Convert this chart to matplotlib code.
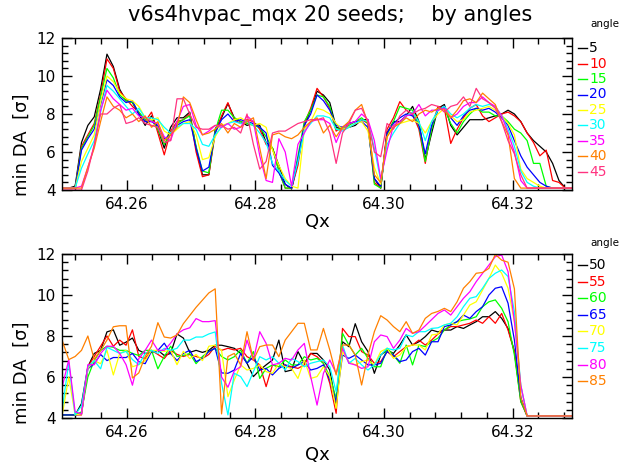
import numpy as np
import matplotlib
matplotlib.use("Agg")
import matplotlib.pyplot as plt
from matplotlib.lines import Line2D
from matplotlib.ticker import MultipleLocator, FormatStrFormatter

# Qx scan grid (81 tunes)
qx_start = 64.25
qx_step = 0.00099
n_pts = 81

top_angles = [5, 10, 15, 20, 25, 30, 35, 40, 45]
bot_angles = [50, 55, 60, 65, 70, 75, 80, 85]
top_colors = ['#000000', '#ff0000', '#00ff00', '#0000ff', '#ffff00',
              '#00ffff', '#ff00ff', '#ff8000', '#ff3380']
bot_colors = ['#000000', '#ff0000', '#00ff00', '#0000ff', '#ffff00',
              '#00ffff', '#ff00ff', '#ff8000']

# min DA [sigma], angles 5..45
t05 = [4.1, 4.1, 4.2, 6.5, 7.4, 7.85, 9.3, 11.15, 10.5, 9.3,
       8.7, 8.6, 8.0, 7.4, 7.9, 7.2, 6.2, 7.3, 7.8, 7.8,
       8.1, 6.2, 4.8, 4.8, 7.2, 7.8, 8.55, 7.8, 7.6, 7.4,
       7.5, 7.4, 6.5, 6.2, 5.3, 4.3, 4.05, 5.5, 7.4, 8.2,
       9.2, 9.0, 8.6, 7.3, 7.2, 7.3, 7.4, 7.7, 7.7, 4.6,
       4.1, 7.0, 7.6, 7.6, 7.9, 8.4, 7.6, 5.6, 7.0, 8.3,
       8.5, 7.4, 6.9, 7.3, 7.7, 7.7, 7.7, 7.8, 7.9, 8.0,
       8.2, 8.0, 7.6, 7.0, 6.6, 6.3, 6.0, 5.4, 4.5, 4.1,
       4.1]
t10 = [4.1, 4.1, 4.1, 6.3, 6.9, 7.5, 9.0, 10.9, 10.4, 9.2,
       8.8, 8.4, 8.1, 7.6, 8.1, 7.0, 5.85, 7.1, 7.6, 7.7,
       8.0, 6.0, 4.7, 4.8, 7.0, 7.9, 8.6, 7.7, 7.5, 7.7,
       7.6, 7.2, 6.4, 6.2, 5.0, 4.1, 4.1, 5.3, 7.5, 8.3,
       9.35, 8.9, 8.3, 7.1, 7.3, 7.5, 7.6, 7.7, 7.5, 4.4,
       4.1, 7.2, 7.8, 8.65, 8.2, 8.0, 7.2, 5.4, 7.3, 8.4,
       8.3, 6.45, 7.2, 7.8, 8.3, 8.5, 7.9, 7.6, 7.8, 8.0,
       8.1, 7.9, 7.6, 7.0, 6.5, 5.8, 6.1, 4.5, 4.4, 4.1,
       4.1]
t15 = [4.1, 4.1, 4.1, 6.2, 6.8, 7.4, 8.9, 10.4, 9.9, 9.0,
       8.7, 8.6, 8.1, 7.7, 7.7, 7.2, 6.4, 7.0, 7.5, 7.7,
       7.9, 6.3, 5.0, 4.9, 7.1, 8.2, 8.2, 7.8, 7.6, 7.5,
       7.4, 7.3, 6.8, 6.2, 5.0, 4.1, 4.1, 5.8, 7.6, 8.2,
       9.0, 8.9, 8.4, 7.2, 7.2, 7.4, 7.6, 7.8, 7.5, 4.3,
       4.1, 6.9, 7.6, 8.4, 8.3, 8.2, 7.4, 5.5, 7.2, 8.3,
       8.3, 7.5, 7.0, 7.6, 8.0, 8.3, 8.1, 8.1, 7.9, 7.9,
       7.6, 7.2, 7.0, 6.6, 5.4, 5.4, 4.2, 4.1, 4.1, 4.1,
       4.1]
t20 = [4.1, 4.1, 4.1, 6.1, 6.7, 7.2, 8.5, 9.8, 9.5, 8.9,
       8.6, 8.7, 8.0, 7.6, 7.6, 7.4, 6.7, 6.9, 7.4, 7.6,
       7.7, 6.2, 5.0, 5.2, 7.0, 7.7, 8.0, 7.6, 7.7, 7.6,
       7.5, 7.3, 7.0, 5.3, 4.9, 4.3, 4.1, 5.6, 7.4, 8.0,
       9.0, 8.7, 8.2, 7.4, 7.3, 7.5, 7.6, 7.6, 7.3, 4.6,
       4.2, 7.0, 7.5, 7.8, 8.0, 7.9, 7.4, 5.9, 7.4, 8.2,
       8.4, 7.8, 7.4, 7.9, 8.2, 8.3, 8.2, 8.3, 8.1, 7.8,
       7.4, 6.6, 5.8, 5.2, 4.8, 4.4, 4.2, 4.1, 4.1, 4.1,
       4.1]
t25 = [4.1, 4.1, 4.1, 5.5, 6.2, 6.9, 8.6, 10.0, 9.7, 9.1,
       8.8, 8.7, 8.4, 7.8, 7.7, 7.8, 7.1, 6.9, 7.2, 7.5,
       7.6, 6.9, 5.6, 5.7, 6.8, 7.4, 7.5, 7.7, 7.8, 7.6,
       7.4, 7.5, 7.3, 6.1, 5.3, 4.6, 4.2, 4.1, 7.2, 7.6,
       8.3, 8.2, 8.0, 7.5, 7.2, 7.3, 7.5, 7.6, 7.1, 5.2,
       4.3, 6.8, 7.4, 7.5, 7.6, 7.7, 7.5, 7.0, 7.6, 8.0,
       8.3, 7.9, 7.6, 7.7, 8.1, 8.2, 8.3, 8.4, 8.2, 7.9,
       7.5, 6.9, 5.1, 4.6, 4.4, 4.2, 4.1, 4.1, 4.1, 4.1,
       4.1]
t30 = [4.1, 4.1, 4.1, 5.15, 5.9, 6.6, 8.1, 9.5, 9.2, 8.8,
       8.4, 8.0, 8.3, 7.8, 7.8, 7.7, 7.3, 7.0, 7.3, 7.5,
       7.5, 7.2, 6.4, 6.3, 6.9, 7.3, 7.5, 7.6, 7.5, 7.6,
       7.4, 7.0, 6.5, 5.4, 5.0, 4.5, 4.2, 5.5, 7.1, 7.5,
       7.9, 7.9, 7.8, 7.2, 7.1, 7.3, 7.5, 7.7, 7.6, 6.2,
       4.5, 6.4, 7.0, 7.5, 7.9, 8.1, 7.6, 6.6, 7.6, 8.2,
       8.4, 8.0, 7.8, 8.0, 8.3, 8.5, 8.4, 8.5, 8.4, 7.9,
       7.2, 6.3, 5.0, 4.4, 4.2, 4.1, 4.1, 4.1, 4.1, 4.1,
       4.1]
t35 = [4.1, 4.1, 4.1, 4.2, 5.2, 6.3, 8.2, 9.25, 8.8, 8.5,
       8.2, 8.3, 7.9, 7.8, 7.6, 7.5, 6.8, 6.6, 7.6, 8.4,
       8.5, 7.4, 6.9, 7.1, 7.4, 7.3, 7.5, 7.2, 7.3, 7.9,
       7.6, 5.8, 4.5, 4.4, 6.7, 6.0, 4.2, 6.4, 7.0, 7.6,
       7.7, 7.7, 7.5, 6.5, 7.3, 7.5, 7.6, 8.0, 7.7, 6.6,
       4.6, 6.1, 7.4, 7.6, 7.9, 8.0, 8.5, 7.9, 8.2, 8.2,
       8.3, 7.8, 8.0, 8.4, 8.6, 8.6, 8.9, 8.6, 8.4, 7.9,
       7.0, 6.0, 4.5, 4.1, 4.1, 4.1, 4.1, 4.1, 4.1, 4.1,
       4.1]
t40 = [4.1, 4.1, 4.1, 4.1, 5.2, 6.2, 7.6, 8.9, 8.4, 8.2,
       7.8, 8.0, 7.6, 7.9, 7.3, 7.6, 6.6, 6.9, 7.3, 8.9,
       8.6, 7.7, 6.9, 7.0, 7.2, 7.5, 7.0, 7.5, 7.3, 7.6,
       7.8, 6.2, 4.6, 6.9, 7.0, 6.8, 6.7, 6.9, 7.3, 7.6,
       7.8, 7.0, 7.4, 6.8, 7.3, 7.6, 8.2, 8.5, 7.5, 4.8,
       4.4, 6.8, 7.3, 7.5, 7.8, 7.6, 8.0, 8.2, 8.1, 8.3,
       8.2, 7.8, 8.2, 8.7, 8.8, 8.6, 9.1, 8.8, 8.5, 7.6,
       6.9, 4.6, 4.1, 4.1, 4.1, 4.1, 4.1, 4.1, 4.1, 4.1,
       4.1]
t45 = [4.0, 4.0, 4.0, 4.0, 5.0, 6.4, 8.0, 8.0, 8.3, 8.5,
       7.5, 7.6, 7.8, 7.5, 7.4, 7.3, 6.5, 6.6, 8.8, 8.8,
       8.0, 7.3, 7.2, 7.2, 7.4, 7.4, 7.2, 7.3, 7.0, 8.0,
       6.4, 5.1, 5.5, 7.0, 7.1, 7.1, 7.3, 7.5, 7.6, 7.7,
       7.7, 7.8, 7.0, 5.4, 7.0, 7.5, 8.2, 8.3, 7.6, 6.0,
       5.75, 7.5, 7.2, 7.9, 8.2, 8.0, 8.2, 8.3, 8.5, 8.4,
       8.1, 8.4, 8.5, 8.9, 8.4, 9.35, 8.8, 8.6, 8.3, 7.6,
       6.6, 5.9, 4.8, 4.1, 4.1, 4.1, 4.1, 4.1, 4.1, 4.1,
       4.1]

# min DA [sigma], angles 50..85
b50 = [4.15, 4.15, 4.15, 4.7, 6.5, 7.15, 7.3, 8.2, 8.3, 7.55,
       7.7, 7.9, 7.3, 7.15, 7.2, 7.3, 7.05, 7.15, 8.1, 7.9,
       7.2, 7.3, 7.2, 7.3, 7.55, 7.55, 7.48, 7.4, 7.15, 6.67,
       6.02, 6.34, 6.59, 6.83, 7.8, 6.26, 6.34, 7.24, 6.67, 7.15,
       7.15, 6.83, 6.34, 4.6, 7.72, 7.48, 8.6, 7.72, 7.24, 6.18,
       7.07, 7.32, 7.15, 7.56, 8.05, 7.56, 7.72, 7.97, 8.29, 8.2,
       8.29, 8.29, 8.46, 8.37, 8.54, 8.7, 8.94, 8.94, 9.19, 8.86,
       8.37, 7.24, 4.96, 4.1, 4.1, 4.1, 4.1, 4.1, 4.1, 4.1,
       4.1]
b55 = [4.15, 4.15, 4.15, 4.15, 6.5, 7.0, 7.5, 8.0, 7.5, 7.8,
       7.55, 8.3, 7.0, 6.9, 7.3, 7.1, 6.9, 7.3, 7.1, 7.0,
       7.1, 7.0, 6.9, 7.1, 7.5, 7.3, 7.4, 7.32, 7.4, 6.99,
       6.83, 6.59, 5.53, 6.59, 6.5, 6.59, 6.5, 6.42, 6.59, 7.15,
       6.99, 6.67, 5.69, 4.23, 8.37, 7.97, 7.97, 7.24, 7.07, 6.67,
       6.75, 7.24, 6.99, 7.24, 7.48, 7.56, 7.8, 7.56, 7.8, 8.1,
       8.29, 8.46, 8.46, 8.54, 8.62, 8.78, 8.62, 8.94, 8.62, 9.1,
       8.29, 7.24, 4.8, 4.1, 4.1, 4.1, 4.1, 4.1, 4.1, 4.1,
       4.1]
b60 = [4.15, 4.15, 4.15, 4.3, 6.0, 6.8, 7.3, 7.5, 7.45, 7.3,
       7.3, 7.15, 7.05, 7.3, 7.3, 6.4, 7.0, 7.5, 7.0, 7.05,
       7.15, 6.65, 7.0, 7.25, 7.4, 7.0, 6.83, 6.99, 7.32, 6.67,
       7.24, 5.93, 6.42, 6.59, 6.5, 6.83, 6.59, 6.59, 6.99, 6.83,
       6.91, 6.67, 6.02, 4.96, 8.13, 7.56, 7.07, 7.4, 6.91, 6.5,
       6.5, 7.4, 7.07, 6.67, 7.56, 6.59, 7.56, 7.48, 7.72, 7.9,
       8.29, 8.54, 8.7, 8.78, 8.83, 8.94, 9.43, 9.67, 9.76, 9.35,
       8.7, 7.07, 4.8, 4.1, 4.1, 4.1, 4.1, 4.1, 4.1, 4.1,
       4.1]
b65 = [4.15, 4.15, 4.15, 4.2, 6.4, 6.65, 7.1, 6.8, 6.95, 6.95,
       6.95, 7.15, 6.75, 6.65, 7.25, 7.3, 7.65, 7.15, 6.8, 7.15,
       7.3, 6.75, 6.9, 7.25, 7.4, 6.2, 6.18, 6.34, 7.15, 6.67,
       6.99, 6.34, 6.42, 6.1, 6.42, 6.59, 6.42, 6.59, 6.75, 6.34,
       6.42, 6.59, 5.85, 4.8, 7.07, 6.91, 7.07, 6.83, 6.59, 6.59,
       6.67, 7.24, 7.07, 6.75, 6.83, 7.24, 7.4, 7.07, 7.72, 7.72,
       8.46, 8.54, 8.7, 9.02, 8.86, 9.19, 9.43, 10.0, 10.33, 10.4,
       9.6, 7.8, 5.0, 4.1, 4.1, 4.1, 4.1, 4.1, 4.1, 4.1,
       4.1]
b70 = [4.2, 6.0, 4.15, 4.2, 6.42, 6.8, 6.65, 7.3, 6.1, 7.15,
       7.3, 6.5, 6.6, 6.8, 7.3, 7.3, 7.25, 7.3, 6.6, 7.25,
       6.9, 7.1, 6.8, 7.5, 7.55, 7.3, 5.04, 5.85, 6.59, 6.34,
       6.42, 6.59, 6.26, 6.18, 6.67, 6.5, 6.42, 5.93, 6.83, 5.93,
       6.02, 6.5, 6.02, 4.47, 7.24, 6.75, 6.59, 6.75, 6.83, 6.59,
       7.24, 7.4, 6.91, 7.07, 7.48, 7.56, 7.56, 7.32, 8.05, 8.1,
       8.54, 8.62, 8.54, 9.02, 9.51, 9.67, 10.24, 10.81, 11.46, 11.06,
       10.33, 8.7, 5.6, 4.1, 4.1, 4.1, 4.1, 4.1, 4.1, 4.1,
       4.1]
b75 = [4.5, 6.7, 4.15, 4.6, 6.5, 6.8, 6.4, 7.45, 7.3, 7.15,
       7.25, 6.85, 6.6, 7.15, 7.3, 7.15, 7.4, 7.3, 7.4, 7.8,
       7.8, 7.95, 7.95, 8.1, 8.2, 5.7, 4.15, 6.18, 6.02, 5.53,
       6.26, 6.99, 6.83, 6.99, 6.67, 6.34, 6.91, 6.75, 6.5, 6.67,
       6.75, 6.83, 6.5, 5.28, 7.56, 6.67, 6.91, 6.59, 6.34, 6.59,
       7.07, 7.4, 7.32, 7.4, 8.05, 7.97, 8.21, 8.21, 8.37, 8.4,
       8.54, 8.62, 8.94, 9.43, 9.84, 9.92, 10.33, 10.81, 11.06, 11.22,
       10.9, 9.19, 5.6, 4.1, 4.1, 4.1, 4.1, 4.1, 4.1, 4.1,
       4.1]
b80 = [5.55, 6.85, 4.3, 4.2, 6.6, 6.6, 7.15, 7.5, 7.5, 7.15,
       6.6, 5.6, 6.9, 7.3, 7.8, 7.3, 7.3, 7.65, 8.1, 8.3,
       8.4, 8.85, 8.7, 8.7, 8.75, 6.0, 5.5, 6.3, 6.5, 7.8,
       6.83, 8.21, 7.64, 6.59, 6.67, 6.91, 6.83, 7.32, 7.64, 6.02,
       4.63, 6.18, 6.83, 6.18, 7.4, 6.67, 6.59, 6.42, 6.5, 7.72,
       8.05, 7.97, 7.4, 7.8, 8.37, 8.13, 8.21, 8.5, 8.8, 9.1,
       9.27, 9.02, 9.43, 9.84, 10.16, 10.65, 11.06, 11.46, 11.87, 11.95,
       11.14, 8.7, 5.6, 4.1, 4.1, 4.1, 4.1, 4.1, 4.1, 4.1,
       4.1]
b85 = [7.75, 6.85, 7.0, 7.3, 8.0, 6.85, 7.3, 7.8, 8.45, 8.5,
       8.5, 5.95, 6.2, 7.0, 7.5, 8.65, 7.95, 7.9, 8.05, 8.6,
       9.0, 9.4, 9.75, 10.1, 10.3, 4.2, 7.0, 7.15, 6.59, 8.21,
       6.83, 7.48, 7.56, 7.56, 6.99, 7.8, 8.21, 8.62, 8.62, 7.32,
       7.32, 8.37, 7.32, 6.1, 7.56, 7.56, 7.07, 5.61, 7.07, 8.21,
       8.99, 8.78, 8.46, 8.21, 8.7, 8.13, 8.29, 8.86, 9.1, 9.2,
       9.35, 9.19, 9.67, 10.33, 10.65, 11.06, 11.1, 11.3, 11.98, 11.7,
       11.6, 10.3, 5.0, 4.1, 4.1, 4.1, 4.1, 4.1, 4.1, 4.1,
       4.1]

top_series = [t05, t10, t15, t20, t25, t30, t35, t40, t45]
bot_series = [b50, b55, b60, b65, b70, b75, b80, b85]

qx = qx_start + qx_step * np.arange(n_pts)

W, H = 628, 468
plt.rcParams['font.family'] = ['DejaVu Sans']
fig = plt.figure(figsize=(W / 100, H / 100), dpi=100)


def px_axes(x0, y0, x1, y1):
    # axes from pixel box (top-left origin)
    return fig.add_axes([x0 / W, 1 - y1 / H, (x1 - x0) / W, (y1 - y0) / H])


def style_axes(ax):
    ax.set_xlim(64.25, 64.3292)
    ax.set_ylim(4, 12)
    ax.xaxis.set_major_locator(MultipleLocator(0.02))
    ax.xaxis.set_minor_locator(MultipleLocator(0.004))
    ax.yaxis.set_major_locator(MultipleLocator(2))
    ax.yaxis.set_minor_locator(MultipleLocator(0.4))
    ax.xaxis.set_major_formatter(FormatStrFormatter('%.2f'))
    ax.yaxis.set_major_formatter(FormatStrFormatter('%d'))
    ax.tick_params(which='both', direction='in', top=True, right=True,
                   labelsize=11, width=1)
    ax.tick_params(which='major', length=7, pad=5)
    ax.tick_params(which='minor', length=4)
    for s in ax.spines.values():
        s.set_linewidth(1)


ax1 = px_axes(62.4, 38, 571.7, 190)
ax2 = px_axes(62.4, 254, 571.7, 418)

for ys, c in zip(top_series, top_colors):
    ax1.plot(qx, ys, color=c, lw=0.9)
for ys, c in zip(bot_series, bot_colors):
    ax2.plot(qx, ys, color=c, lw=0.9)

for ax, lab_y, qx_y in [(ax1, 196, 222), (ax2, 424, 455)]:
    style_axes(ax)
    fig.text(22 / W, 1 - lab_y / H, 'min DA  [σ]', rotation=90,
             ha='center', va='bottom', fontsize=13)
    fig.text(317 / W, 1 - qx_y / H, 'Qx', ha='center', va='center', fontsize=13)

fig.text(330 / W, 1 - 15 / H, 'v6s4hvpac_mqx 20 seeds;    by angles',
         ha='center', va='center', fontsize=15)


def legend(angles, colors, y_head, y0, dy):
    fig.text(605 / W, 1 - y_head / H, 'angle', ha='center', va='center', fontsize=7.5)
    for k, (a, c) in enumerate(zip(angles, colors)):
        y = 1 - (y0 + k * dy) / H
        fig.add_artist(Line2D([578 / W, 587 / W], [y, y], color=c, lw=1))
        fig.text(589 / W, y, str(a), color=c, ha='left', va='center', fontsize=10)


legend(top_angles, top_colors, 24, 48, 15.5)
legend(bot_angles, bot_colors, 243, 265, 16.6)

fig.savefig('out.png', dpi=100)
